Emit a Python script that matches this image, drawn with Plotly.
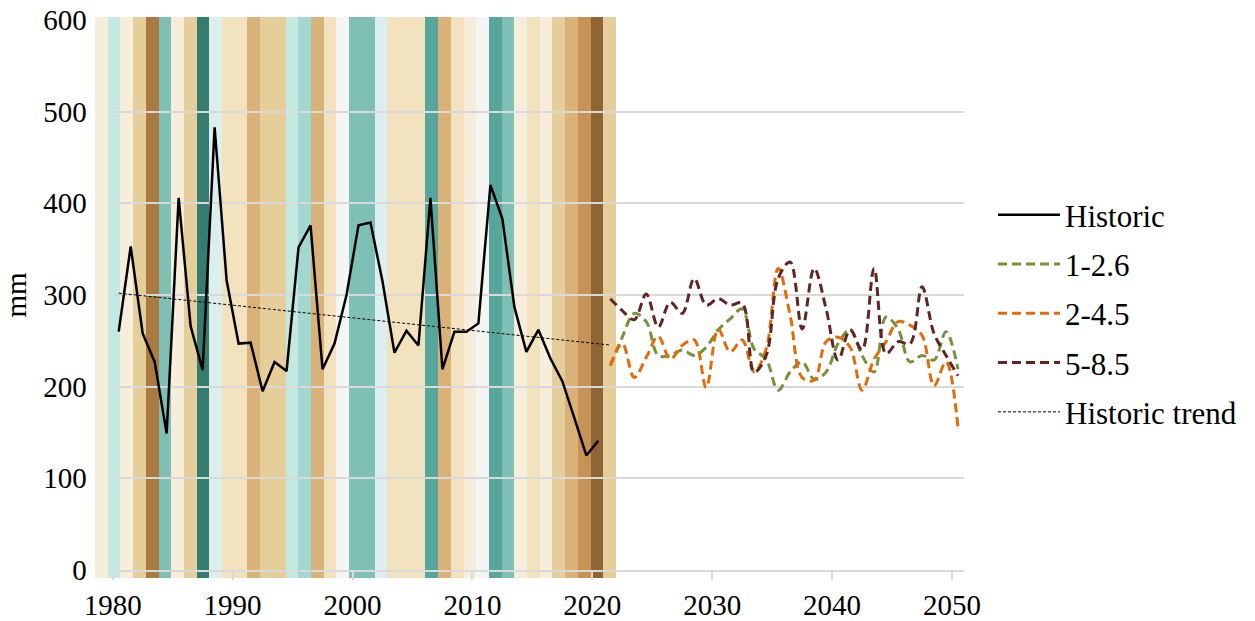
import numpy as np
import plotly.graph_objects as go

# ---------------- data ----------------
hist_years = list(range(1980, 2021))
hist_values = [260, 353, 258, 227, 149, 406, 266, 218, 483, 316,
               247, 248, 195, 227, 217, 352, 376, 219, 247, 300,
               376, 379, 315, 237, 261, 245, 406, 219, 260, 260,
               269, 420, 383, 287, 238, 262, 231, 206, 166, 125, 141]

proj_years = list(range(2021, 2051))
ssp126 = [223, 254, 280, 271, 234, 234, 240, 234, 243, 262,
          274, 285, 241, 230, 196, 216, 227, 208, 216, 247,
          262, 234, 216, 276, 263, 227, 234, 229, 260, 219]
ssp245 = [223, 247, 210, 232, 255, 230, 245, 251, 199, 263,
          238, 251, 216, 241, 329, 278, 210, 207, 249, 254,
          243, 196, 230, 249, 271, 267, 256, 201, 227, 155]
ssp585 = [296, 283, 273, 301, 265, 292, 280, 318, 289, 296,
          289, 291, 216, 234, 318, 336, 263, 329, 285, 229,
          262, 240, 329, 236, 249, 247, 309, 258, 234, 212]

trend_years = list(range(1980, 2022))

stripe_years = list(range(1980, 2021))
stripe_colors = ["#F6EDDB", "#C4E8E2", "#F6EDDB", "#E6CE9B", "#AB7A40",
                 "#7EC0B5", "#F6EDDB", "#E6CE9B", "#347B70", "#DDEEEE",
                 "#F3E2BE", "#F3E2BE", "#D8B278", "#E6CE9B", "#E6CE9B",
                 "#C4E8E2", "#A2D8CF", "#D8B278", "#F3E2BE", "#F5F5F5",
                 "#7EC0B5", "#7EC0B5", "#DDEEEE", "#F3E2BE", "#F3E2BE",
                 "#F3E2BE", "#57A69C", "#D8B278", "#F3E2BE", "#F6EDDB",
                 "#F5F5F5", "#57A69C", "#7EC0B5", "#F6EDDB", "#F3E2BE",
                 "#F6EDDB", "#E6CE9B", "#D8B278", "#C69256", "#8F6535",
                 "#E6CE9B"]

x_ticks = [1980, 1990, 2000, 2010, 2020, 2030, 2040, 2050]
y_ticks = [0, 100, 200, 300, 400, 500, 600]

# ---------------- figure ----------------
FONT = "Liberation Serif"
FS = 29
MID = 0.5  # values are plotted at mid-year

hx = np.array(hist_years) + MID
px_ = np.array(proj_years) + MID
coef = np.polyfit(np.array(hist_years, float), np.array(hist_values, float), 1)
trend_vals = np.polyval(coef, np.array(trend_years, float))

fig = go.Figure()

# climate stripes (own axes, drawn underneath)
fig.add_trace(go.Bar(
    x=stripe_years, y=[1] * len(stripe_years),
    marker=dict(color=stripe_colors, line=dict(width=0)),
    width=1, xaxis="x", yaxis="y", showlegend=False, hoverinfo="skip"))

fig.add_trace(go.Scatter(
    x=hx, y=hist_values, name="Historic", mode="lines",
    line=dict(color="black", width=2.5), xaxis="x2", yaxis="y2",
    legendgroup="a"))
fig.add_trace(go.Scatter(
    x=px_, y=ssp126, name="1-2.6", mode="lines",
    line=dict(color="#76923C", width=3, dash="9px,5px", shape="spline"),
    xaxis="x2", yaxis="y2", legendgroup="b"))
fig.add_trace(go.Scatter(
    x=px_, y=ssp245, name="2-4.5", mode="lines",
    line=dict(color="#E36C09", width=3, dash="9px,5px", shape="spline"),
    xaxis="x2", yaxis="y2", legendgroup="c"))
fig.add_trace(go.Scatter(
    x=px_, y=ssp585, name="5-8.5", mode="lines",
    line=dict(color="#632523", width=3, dash="9px,5px", shape="spline"),
    xaxis="x2", yaxis="y2", legendgroup="d"))
fig.add_trace(go.Scatter(
    x=np.array(trend_years) + MID, y=trend_vals, name="Historic trend",
    mode="lines", line=dict(color="black", width=1, dash="3px,2px"),
    xaxis="x2", yaxis="y2", legendgroup="e"))

W, H = 1255, 621
paper_l, paper_r, paper_t, paper_b = 95, 964, 17, 578   # page px
ml, mr = paper_l, W - paper_r
mt, mb = paper_t, H - paper_b
pw, ph = paper_r - paper_l, paper_b - paper_t


def fx(p):
    return (p - paper_l) / pw


def fy(p):
    return (paper_b - p) / ph


fig.update_layout(
    width=W, height=H,
    margin=dict(l=ml, r=mr, t=mt, b=mb, pad=0, autoexpand=False),
    paper_bgcolor="white", plot_bgcolor="rgba(0,0,0,0)",
    bargap=0,
    font=dict(family=FONT, size=FS, color="black"),
    showlegend=True,
    legend=dict(x=fx(993), y=fy(188), xanchor="left", yanchor="top",
                bgcolor="rgba(0,0,0,0)", font=dict(family=FONT, size=31),
                tracegroupgap=6, itemwidth=62, traceorder="grouped"),
    xaxis=dict(domain=[0, fx(616)], range=[1979.5, 2020.5], visible=False,
               fixedrange=True, automargin=False),
    yaxis=dict(domain=[0, 1], range=[0, 1], visible=False, fixedrange=True,
               automargin=False),
    xaxis2=dict(domain=[fx(112.7), 1], range=[1980, 2051], anchor="y2",
                tickvals=x_ticks, ticktext=[str(v) for v in x_ticks],
                ticks="outside", ticklen=8, tickcolor="#D9D9D9", tickwidth=1.5,
                showline=True, linecolor="#D9D9D9", linewidth=1.5,
                showgrid=False, zeroline=False, automargin=False,
                ticklabeloverflow="allow",
                tickfont=dict(family=FONT, size=FS)),
    yaxis2=dict(domain=[fy(570), fy(20)], range=[0, 600],
                anchor="x2", tickvals=y_ticks, showgrid=True, gridcolor="#D9D9D9",
                gridwidth=1.5, zeroline=False, showline=False, ticks="",
                automargin=False, ticklabeloverflow="allow",
                ticklabelstandoff=25, tickfont=dict(family=FONT, size=FS),
                title=dict(text="mm", standoff=20, font=dict(family=FONT, size=FS))),
)

# remove the browser's default page margin so the figure fills the window
fig.write_html("out.html", config={"displayModeBar": False},
               post_script="document.body.style.margin='0';")
